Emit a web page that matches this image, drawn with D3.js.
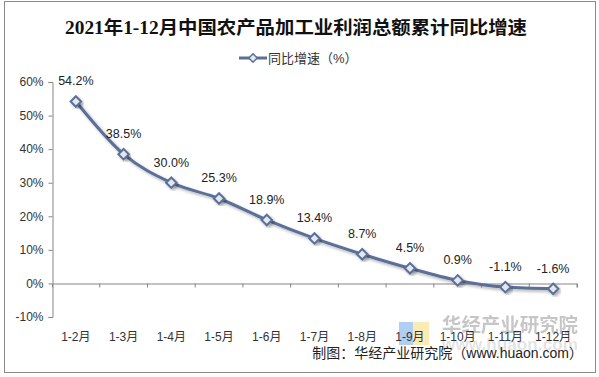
<!DOCTYPE html>
<html>
<head>
<meta charset="UTF-8">
<script src="https://d3js.org/d3.v7.min.js"></script>
<style>
  body { margin: 0; background: #fff; }
  text { font-family: Arial, "Liberation Sans", "Noto Sans CJK SC", sans-serif; }
</style>
</head>
<body>
<svg id="chart"></svg>
<script>
  // data
  let months = ["1-2月", "1-3月", "1-4月", "1-5月", "1-6月", "1-7月", "1-8月", "1-9月", "1-10月", "1-11月", "1-12月"];
  let growth = [54.2, 38.5, 30.0, 25.3, 18.9, 13.4, 8.7, 4.5, 0.9, -1.1, -1.6];
  let yTicks = [-10, 0, 10, 20, 30, 40, 50, 60];

  let width = 599;
  let height = 377;
  let lineColor = "#5a6f98";

  let svg = d3.select("#chart").attr("width", width).attr("height", height);

  svg.append("rect")
     .attr("x", 4.5).attr("y", 1.5)
     .attr("width", 591).attr("height", 371)
     .attr("fill", "#fff")
     .attr("stroke", "#8a8a8a").attr("stroke-width", 1);

  let x = d3.scaleBand().domain(months).range([52, 577]);
  let y = d3.scaleLinear().domain([-10, 60]).range([317, 82]);

  // y axis
  let yAxis = svg.append("g")
                 .attr("transform", "translate(52.5,0)")
                 .call(d3.axisLeft(y).tickValues(yTicks).tickSize(4).tickFormat(d => d + "%"));
  yAxis.select(".domain").attr("stroke", "#868686");
  yAxis.selectAll(".tick line").attr("stroke", "#868686");
  yAxis.selectAll("text").attr("fill", "#333").style("font-size", "12px").attr("x", -9);

  // x axis along 0%
  let xAxis = svg.append("g")
                 .attr("transform", "translate(0," + (Math.round(y(0)) + 0.5) + ")")
                 .call(d3.axisBottom(x).tickSize(4).tickFormat(""));
  xAxis.select(".domain").attr("stroke", "#868686");
  xAxis.selectAll(".tick line").remove();
  x.domain().forEach(m => {
    xAxis.append("line")
         .attr("x1", x(m) + x.bandwidth()).attr("x2", x(m) + x.bandwidth())
         .attr("y1", 0).attr("y2", 4)
         .attr("stroke", "#868686");
  });

  // category labels below the plot
  svg.selectAll(".xlab").data(months)
     .join("text")
     .attr("class", "xlab")
     .attr("x", d => x(d) + x.bandwidth() / 2)
     .attr("y", 341)
     .attr("text-anchor", "middle")
     .attr("fill", "#333")
     .style("font-size", "12px")
     .text(d => d);

  let cx = (d, i) => x(months[i]) + x.bandwidth() / 2;

  let line = d3.line()
               .x((d, i) => cx(d, i))
               .y(d => y(d))
               .curve(d3.curveMonotoneX);

  // soft shadow
  let defs = svg.append("defs");
  let f = defs.append("filter").attr("id", "sh").attr("x", "-20%").attr("y", "-20%").attr("width", "140%").attr("height", "140%");
  f.append("feDropShadow").attr("dx", 2).attr("dy", 2).attr("stdDeviation", 1.5).attr("flood-color", "#000").attr("flood-opacity", 0.3);

  svg.append("path")
     .datum(growth)
     .attr("d", line)
     .attr("fill", "none")
     .attr("stroke", lineColor)
     .attr("stroke-width", 3)
     .attr("filter", "url(#sh)");

  svg.selectAll(".pt").data(growth)
     .join("path")
     .attr("class", "pt")
     .attr("d", d3.symbol(d3.symbolDiamond2, 70))
     .attr("transform", (d, i) => "translate(" + cx(d, i) + "," + y(d) + ")")
     .attr("fill", "#e3e7f0")
     .attr("stroke", lineColor)
     .attr("stroke-width", 2)
     .attr("filter", "url(#sh)");

  svg.selectAll(".lbl").data(growth)
     .join("text")
     .attr("class", "lbl")
     .attr("x", (d, i) => cx(d, i))
     .attr("y", d => y(d) - 16)
     .attr("text-anchor", "middle")
     .attr("fill", "#222")
     .style("font-size", "12.5px")
     .text(d => d.toFixed(1) + "%");

  // title
  svg.append("text")
     .attr("x", 296).attr("y", 34)
     .attr("text-anchor", "middle")
     .attr("textLength", 462).attr("lengthAdjust", "spacingAndGlyphs")
     .style("font-family", "'Liberation Serif', 'Noto Sans CJK SC', serif")
     .style("font-weight", "bold")
     .style("font-size", "18px")
     .attr("fill", "#111")
     .text("2021年1-12月中国农产品加工业利润总额累计同比增速");

  // legend
  svg.append("line")
     .attr("x1", 239).attr("x2", 267).attr("y1", 58).attr("y2", 58)
     .attr("stroke", lineColor).attr("stroke-width", 3);
  svg.append("path")
     .attr("d", d3.symbol(d3.symbolDiamond2, 45))
     .attr("transform", "translate(253,58)")
     .attr("fill", "#e3e7f0").attr("stroke", lineColor).attr("stroke-width", 1.5);
  svg.append("text")
     .attr("x", 268).attr("y", 63)
     .attr("fill", "#333")
     .style("font-size", "13px")
     .text("同比增速（%）");

  // watermark (faint, sits behind the bottom-right labels as in the source)
  let wm = svg.insert("g", "g");
  wm.append("rect").attr("x", 399).attr("y", 322).attr("width", 14).attr("height", 23).attr("fill", "#9cc3f0").attr("opacity", 0.8);
  wm.append("rect").attr("x", 413).attr("y", 322).attr("width", 16).attr("height", 23).attr("fill", "#fbe6a2").attr("opacity", 0.8);
  wm.append("text")
     .attr("x", 510).attr("y", 332)
     .attr("text-anchor", "middle")
     .attr("fill", "#999").attr("opacity", 0.55)
     .style("font-size", "19px").style("font-weight", "bold")
     .attr("textLength", 136).attr("lengthAdjust", "spacingAndGlyphs")
     .text("华经产业研究院");
  wm.append("text")
     .attr("x", 510).attr("y", 350)
     .attr("text-anchor", "middle")
     .attr("fill", "#bbb").attr("opacity", 0.4)
     .style("font-size", "16px").style("font-weight", "bold")
     .attr("textLength", 136).attr("lengthAdjust", "spacingAndGlyphs")
     .text("www.huaon.com");

  // source note
  svg.append("text")
     .attr("x", 583).attr("y", 358)
     .attr("text-anchor", "end")
     .attr("fill", "#222")
     .style("font-size", "14px")
     .text("制图：华经产业研究院（www.huaon.com）");
</script>
</body>
</html>
